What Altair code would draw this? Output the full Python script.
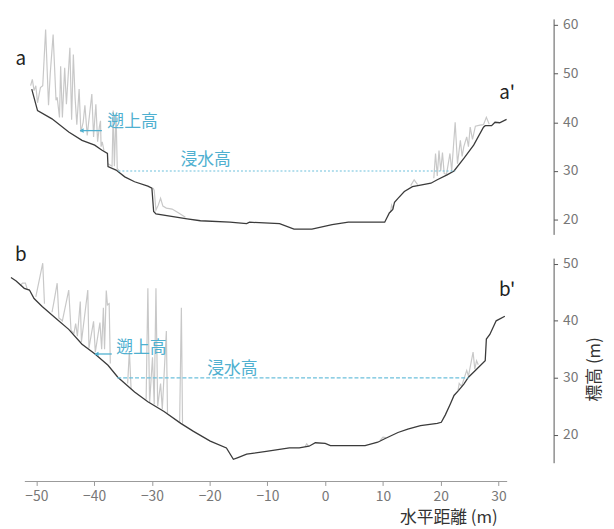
import altair as alt
import pandas as pd

FONT = "Noto Sans CJK JP"

# ---------------- data ----------------
# Profile a - a'
terrain_a_x = [-50.8, -49.8, -47.3, -44.4, -42.1, -39.9, -38.7, -37.7, -37.6, -36.2, -34.7, -33.0,
               -30.7, -30.0, -29.7, -29.3, -23.9, -21.6, -16.5, -13.6, -13.1, -7.9, -5.4, -2.3,
               1.2, 4.0, 10.3, 11.1, 11.7, 12.0, 12.6, 13.7, 15.1, 16.5, 18.3, 19.4, 21.1, 22.3,
               24.0, 25.7, 27.4, 27.7, 28.8, 29.4, 30.2, 31.4]
terrain_a_y = [46.8, 42.4, 40.7, 38.0, 36.3, 35.3, 34.3, 33.6, 30.9, 30.2, 28.8, 27.8,
               26.9, 26.5, 21.7, 21.2, 20.2, 19.8, 19.5, 19.2, 19.5, 19.2, 18.1, 18.1,
               19.0, 19.5, 19.5, 21.4, 22.1, 23.6, 24.4, 25.8, 26.8, 27.1, 27.5, 28.2, 29.2, 30.0,
               32.6, 35.3, 39.0, 39.3, 39.3, 40.0, 39.9, 40.6]

gray_a = [
    [(-51.0, 47.5), (-50.7, 48.8), (-50.4, 46.5), (-50.1, 47.5), (-49.8, 44.0), (-49.3, 47.1),
     (-48.9, 47.5), (-48.4, 59.0), (-47.9, 43.5), (-47.6, 50.0), (-47.1, 58.0), (-46.6, 44.5),
     (-46.4, 45.1), (-46.0, 41.0), (-45.8, 51.5), (-45.5, 41.0), (-45.1, 51.2), (-44.8, 43.7),
     (-44.2, 55.3), (-43.9, 40.5), (-43.6, 53.9), (-43.3, 45.0), (-43.0, 39.5), (-42.6, 46.8),
     (-42.3, 38.0), (-41.9, 40.0), (-41.6, 43.5), (-41.2, 37.3), (-40.4, 45.8), (-40.1, 37.0),
     (-39.9, 40.5), (-39.7, 43.7), (-39.4, 36.0), (-39.1, 39.0), (-38.9, 40.3), (-38.8, 35.0),
     (-38.6, 36.0), (-38.3, 34.2)],
    [(-37.6, 31.5), (-36.9, 31.0), (-36.7, 42.4), (-36.5, 31.0), (-36.2, 41.7), (-36.0, 30.5),
     (-35.7, 30.1)],
    [(-29.8, 26.5), (-29.6, 26.0), (-29.3, 22.0), (-28.9, 23.0), (-28.5, 24.4), (-28.1, 22.8),
     (-27.5, 22.4), (-26.5, 22.2), (-25.5, 21.5), (-24.2, 20.5)],
    [(11.3, 21.5), (11.5, 23.0), (11.8, 22.2)],
    [(14.8, 27.0), (15.4, 28.2), (16.0, 27.2)],
    [(18.8, 28.5), (19.1, 33.6), (19.4, 29.0), (19.7, 34.2), (20.0, 30.0), (20.3, 33.8),
     (20.6, 29.5), (21.0, 29.3), (21.6, 33.6), (21.9, 30.0), (22.5, 40.0), (22.9, 31.5),
     (23.4, 36.3), (23.7, 33.0), (24.0, 35.0), (24.5, 37.0), (24.8, 35.0), (25.1, 39.0),
     (25.5, 36.5), (26.0, 39.2), (26.8, 39.4), (27.4, 39.5), (27.9, 41.0), (28.4, 39.6)],
]

# Profile b - b'
terrain_b_x = [-54.4, -53.5, -52.1, -51.2, -50.4, -49.0, -46.7, -44.4, -42.1, -39.9, -37.6, -35.9,
               -33.0, -30.7, -27.9, -25.0, -22.8, -19.9, -17.1, -15.9, -15.1, -13.6, -10.2, -6.2,
               -4.5, -2.8, -1.7, 0.0, 0.9, 6.9, 9.1, 10.3, 12.6, 14.3, 16.5, 19.4, 20.1, 20.8,
               21.7, 22.3, 23.1, 24.0, 24.8, 25.9, 27.7, 27.9, 28.5, 29.6, 31.1]
terrain_b_y = [47.6, 47.0, 45.7, 45.4, 43.9, 42.5, 40.5, 38.5, 35.9, 34.2, 32.2, 30.1,
               27.5, 25.8, 24.1, 22.0, 20.6, 18.9, 17.7, 15.7, 16.0, 16.6, 17.1, 17.7,
               17.7, 18.0, 18.6, 18.5, 18.1, 18.1, 18.7, 19.3, 20.4, 21.0, 21.6, 22.0, 22.2, 23.5,
               25.5, 26.9, 27.8, 28.9, 30.1, 31.2, 33.0, 36.8, 37.6, 40.0, 40.8]

gray_b = [
    [(-52.8, 46.2), (-52.4, 46.6), (-51.9, 46.6), (-51.6, 45.6)],
    [(-50.1, 44.2), (-48.9, 50.1), (-48.6, 43.0)],
    [(-47.3, 41.5), (-47.0, 43.1), (-46.4, 46.6), (-46.1, 40.5), (-45.5, 40.0), (-44.4, 45.4),
     (-44.0, 38.3), (-43.5, 37.8), (-43.2, 39.5), (-42.9, 37.3), (-42.4, 43.4), (-42.2, 36.3),
     (-41.1, 45.4), (-40.9, 35.2), (-40.1, 39.9), (-39.8, 34.5), (-39.0, 39.7), (-38.7, 35.0),
     (-38.4, 42.3), (-38.2, 35.0), (-37.9, 45.3), (-37.7, 42.8), (-37.4, 43.0), (-37.2, 32.5)],
    [(-34.2, 29.0), (-33.9, 34.7), (-33.6, 28.0)],
    [(-31.0, 26.2), (-30.7, 45.7), (-30.4, 25.6), (-29.9, 33.6), (-29.6, 25.3), (-29.3, 45.7),
     (-29.0, 25.0), (-28.5, 29.0), (-28.2, 24.5), (-27.5, 38.2), (-27.3, 23.8)],
    [(-25.2, 22.3), (-24.9, 42.3), (-24.7, 22.0)],
    [(-3.5, 17.9), (-3.2, 18.4), (-2.9, 18.0)],
    [(9.5, 19.0), (10.0, 19.6), (10.5, 19.5)],
    [(23.0, 27.8), (23.2, 29.0), (23.6, 28.5), (24.5, 31.3), (24.8, 30.3), (25.6, 34.5),
     (25.9, 31.5), (26.2, 33.0), (26.5, 32.3)],
]

# inundation height (浸水高) lines
flood_level = 30
flood_a_x = [-35.8, 22.5]
flood_b_x = [-36.0, 24.8]

x_ticks = [-50, -40, -30, -20, -10, 0, 10, 20, 30]
x_axis_span = [-52, 31.5]
y_ticks_a = [20, 30, 40, 50, 60]
y_ticks_b = [20, 30, 40, 50]

panel_labels_a = ["a", "a'"]
panel_labels_b = ["b", "b'"]
flood_label = "浸水高"
runup_label = "遡上高"
x_title = "水平距離 (m)"
y_title = "標高 (m)"

# ---------------- styles ----------------
X_DOMAIN = [-54.4, 31.5]
W = 502
H_A = 218
H_B = 207
X_OFF = 19
DARK = "#3b3b3b"
GRAY = "#c8c8c8"
BLUE_LINE = "#6cc0dc"
BLUE_TEXT = "#4fb0d0"


def gray_frame(segments):
    rows = []
    for i, seg in enumerate(segments):
        for j, (x, y) in enumerate(seg):
            rows.append({"x": x, "y": y, "seg": i, "o": j})
    return pd.DataFrame(rows)


def panel(tx, ty, gsegs, fx, ydomain, yticks, height, labels, lab_pos,
          flood_pos, runup_pos, arrow, dash, x_axis, y_axis_title):
    xs = alt.Scale(domain=X_DOMAIN, nice=False, zero=False)
    ys = alt.Scale(domain=ydomain, nice=False, zero=False)
    if x_axis:
        xa = alt.Axis(values=x_ticks, offset=X_OFF, domain=False, tickColor="#9a9a9a",
                      tickSize=4, labelColor="#777777", labelFontSize=14, labelFont=FONT,
                      labelPadding=4, grid=False, title=x_title, titleFont=FONT,
                      titleFontSize=17, titleFontWeight="normal", titleColor="#333333",
                      titleAlign="right", titleBaseline="middle", titleX=492, titleY=36)
    else:
        xa = None
    ya_kwargs = dict(orient="right", values=yticks, offset=47, domainColor="#555555",
                     tickColor="#555555", tickSize=4, labelColor="#777777", labelFontSize=14,
                     labelFont=FONT, labelPadding=5, grid=False)
    if y_axis_title:
        ya = alt.Axis(title=y_title, titleFont=FONT, titleFontSize=17,
                      titleFontWeight="normal", titleColor="#333333", titleAngle=270,
                      titleAlign="center", titleBaseline="middle",
                      titleX=41, titleY=112, **ya_kwargs)
    else:
        ya = alt.Axis(title=None, **ya_kwargs)

    gdf = gray_frame(gsegs)
    gray = alt.Chart(gdf).mark_line(color=GRAY, strokeWidth=1.2).encode(
        x=alt.X("x:Q", scale=xs, axis=xa),
        y=alt.Y("y:Q", scale=ys, axis=ya),
        detail="seg:N",
        order="o:Q",
    )
    tdf = pd.DataFrame({"x": tx, "y": ty, "o": list(range(len(tx)))})
    terr = alt.Chart(tdf).mark_line(color=DARK, strokeWidth=1.3).encode(
        x=alt.X("x:Q", scale=xs), y=alt.Y("y:Q", scale=ys), order="o:Q")

    fdf = pd.DataFrame({"x": fx, "y": [flood_level] * len(fx)})
    flood = alt.Chart(fdf).mark_line(color=BLUE_LINE, strokeWidth=1.2, strokeDash=dash).encode(
        x=alt.X("x:Q", scale=xs), y=alt.Y("y:Q", scale=ys))

    ftext = alt.Chart(pd.DataFrame({"t": [flood_label]})).mark_text(
        font=FONT, fontSize=17, color=BLUE_TEXT, align="center", baseline="middle").encode(
        text="t:N", x=alt.value(flood_pos[0]), y=alt.value(flood_pos[1]))
    rtext = alt.Chart(pd.DataFrame({"t": [runup_label]})).mark_text(
        font=FONT, fontSize=17, color=BLUE_TEXT, align="center", baseline="middle").encode(
        text="t:N", x=alt.value(runup_pos[0]), y=alt.value(runup_pos[1]))
    arr_line = alt.Chart(pd.DataFrame({"k": [0]})).mark_rule(
        color=BLUE_TEXT, strokeWidth=1.3).encode(
        x=alt.value(arrow[0]), x2=alt.value(arrow[1]), y=alt.value(arrow[2]))
    arr_head = alt.Chart(pd.DataFrame({"k": [0]})).mark_point(
        shape="triangle-left", filled=True, color=BLUE_TEXT, size=22, opacity=1).encode(
        x=alt.value(arrow[1] + 1.5), y=alt.value(arrow[2]))

    ldf = pd.DataFrame({"t": labels})
    lab1 = alt.Chart(ldf.iloc[[0]]).mark_text(
        font=FONT, fontSize=19, color="#222222", align="center", baseline="middle").encode(
        text="t:N", x=alt.value(lab_pos[0][0]), y=alt.value(lab_pos[0][1]))
    lab2 = alt.Chart(ldf.iloc[[1]]).mark_text(
        font=FONT, fontSize=19, color="#222222", align="center", baseline="middle").encode(
        text="t:N", x=alt.value(lab_pos[1][0]), y=alt.value(lab_pos[1][1]))

    layers = [gray, terr, flood, ftext, rtext, arr_line, arr_head, lab1, lab2]
    if x_axis:
        adf = pd.DataFrame({"x": [x_axis_span[0]], "x2": [x_axis_span[1]]})
        axis_line = alt.Chart(adf).mark_rule(color="#9a9a9a", strokeWidth=1).encode(
            x=alt.X("x:Q", scale=xs), x2="x2:Q", y=alt.value(height + X_OFF))
        layers.append(axis_line)
    return alt.layer(*layers).properties(width=W, height=height)


top = panel(terrain_a_x, terrain_a_y, gray_a, flood_a_x, [17, 61.2], y_ticks_a, H_A,
            panel_labels_a, [(10, 41), (502, 75)], (197, 143), (123, 104),
            (92, 70, 113), [2, 2], False, False)
bottom = panel(terrain_b_x, terrain_b_y, gray_b, flood_b_x, [15.1, 51], y_ticks_b, H_B,
               panel_labels_b, [(10, -3), (502, 32)], (224, 112), (132, 91),
               (102, 85, 97), [4, 2], True, True)

chart = alt.vconcat(top, bottom, spacing=24, bounds="flush").properties(
    padding={"left": 0, "top": 6, "right": 4, "bottom": 0}
).configure(font=FONT, view=alt.ViewConfig(stroke=None))

chart.save("out.html", embed_options={"renderer": "svg", "actions": False})
